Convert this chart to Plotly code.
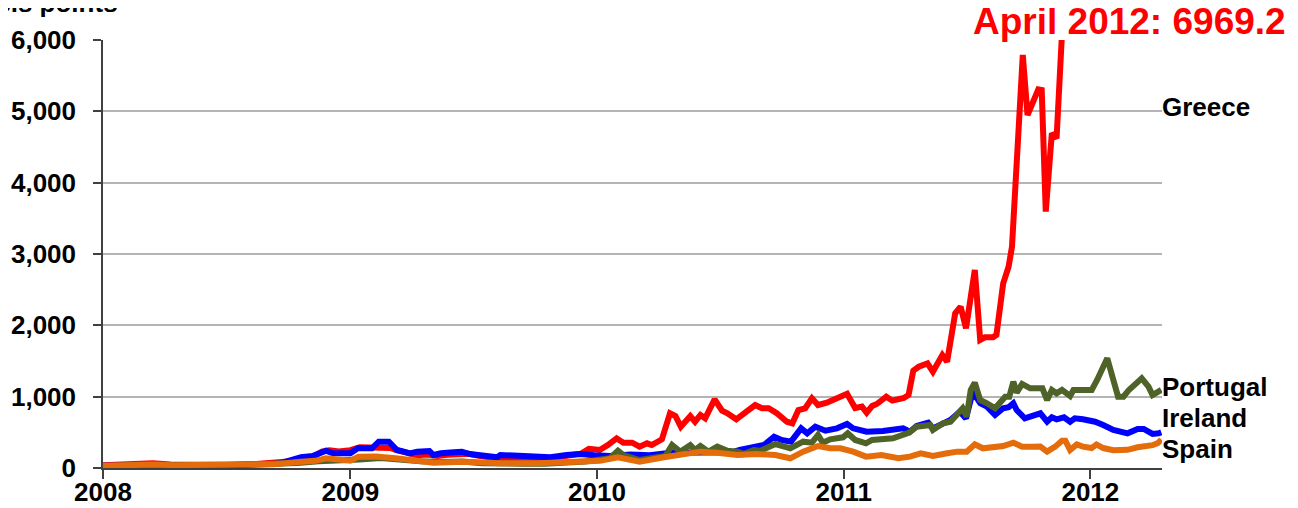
import plotly.graph_objects as go

# ---------------- data (basis points) ----------------
greece_dates = [
    "2008-01-01", "2008-01-20", "2008-02-10", "2008-03-15", "2008-04-10", "2008-05-15", "2008-06-15",
    "2008-07-15", "2008-08-15", "2008-09-15", "2008-10-01", "2008-10-20", "2008-11-05", "2008-11-20",
    "2008-12-01", "2008-12-15", "2009-01-01", "2009-01-15", "2009-02-01", "2009-02-15", "2009-03-01",
    "2009-03-10", "2009-03-25", "2009-04-10", "2009-04-25", "2009-05-10", "2009-05-25", "2009-06-10",
    "2009-06-25", "2009-07-10", "2009-07-25", "2009-08-10", "2009-08-25", "2009-09-10", "2009-09-25",
    "2009-10-10", "2009-10-25", "2009-11-10", "2009-11-25", "2009-12-08", "2009-12-20", "2010-01-05",
    "2010-01-17", "2010-01-30", "2010-02-09", "2010-02-22", "2010-03-05", "2010-03-16", "2010-03-23",
    "2010-04-07", "2010-04-19", "2010-04-27", "2010-05-05", "2010-05-19", "2010-05-26", "2010-06-03",
    "2010-06-10", "2010-06-24", "2010-07-05", "2010-07-13", "2010-07-26", "2010-08-06", "2010-08-23",
    "2010-09-02", "2010-09-12", "2010-09-24", "2010-10-09", "2010-10-17", "2010-10-26", "2010-11-05",
    "2010-11-15", "2010-11-24", "2010-12-07", "2010-12-22", "2011-01-06", "2011-01-18", "2011-01-28",
    "2011-02-04", "2011-02-12", "2011-02-19", "2011-03-05", "2011-03-14", "2011-03-31", "2011-04-07",
    "2011-04-14", "2011-04-22", "2011-05-05", "2011-05-13", "2011-05-27", "2011-06-03", "2011-06-15",
    "2011-06-23", "2011-07-01", "2011-07-14", "2011-07-22", "2011-07-29", "2011-08-10", "2011-08-15",
    "2011-08-25", "2011-09-02", "2011-09-07", "2011-09-23", "2011-09-30", "2011-10-16", "2011-10-21",
    "2011-10-27", "2011-11-05", "2011-11-12", "2011-11-25", "2011-12-15", "2012-01-15", "2012-02-15",
    "2012-03-15", "2012-04-13",
]
greece = [
    40, 45, 60, 65, 50, 45, 50,
    45, 55, 65, 90, 140, 150, 230,
    250, 230, 250, 290, 280, 270, 280,
    250, 220, 180, 190, 170, 185, 190,
    200, 170, 150, 130, 140, 140, 130,
    130, 140, 160, 190, 200, 270, 252,
    322, 416, 355, 355, 299, 346, 322,
    402, 767, 729, 579, 729, 649, 743,
    697, 963, 803, 767, 683, 767, 883,
    837, 837, 767, 649, 626, 813, 837,
    977, 883, 916, 977, 1040, 841, 860,
    776, 869, 897, 1000, 944, 981, 1023,
    1365, 1420, 1467, 1351, 1584, 1491, 2169,
    2262, 1958, 2776, 1795, 1832, 1832, 1865,
    2589, 2822, 3100, 5790, 4949, 5309, 5300,
    3594, 4692, 4622, 7000, 8000, 8500, 9000,
    8000, 6969.2,
]

ireland_dates = [
    "2008-01-01", "2008-02-15", "2008-04-01", "2008-06-01", "2008-08-01", "2008-09-15", "2008-10-20",
    "2008-11-06", "2008-11-26", "2008-12-06", "2009-01-01", "2009-01-12", "2009-02-02", "2009-02-12",
    "2009-02-27", "2009-03-11", "2009-03-21", "2009-03-30", "2009-04-10", "2009-04-22", "2009-04-28",
    "2009-05-04", "2009-05-15", "2009-06-03", "2009-06-15", "2009-06-27", "2009-07-22", "2009-08-06",
    "2009-08-11", "2009-09-05", "2009-10-01", "2009-10-24", "2009-11-17", "2009-12-07", "2009-12-28",
    "2010-01-20", "2010-02-20", "2010-03-20", "2010-04-20", "2010-05-20", "2010-06-20", "2010-07-20",
    "2010-07-31", "2010-08-20", "2010-09-05", "2010-09-20", "2010-10-01", "2010-10-15", "2010-10-30",
    "2010-11-08", "2010-11-20", "2010-12-05", "2010-12-22", "2011-01-06", "2011-01-15", "2011-02-04",
    "2011-02-28", "2011-03-30", "2011-04-09", "2011-04-19", "2011-05-06", "2011-05-13", "2011-05-28",
    "2011-06-08", "2011-06-22", "2011-07-01", "2011-07-11", "2011-07-22", "2011-08-01", "2011-08-13",
    "2011-08-25", "2011-09-02", "2011-09-09", "2011-09-14", "2011-09-26", "2011-10-06", "2011-10-19",
    "2011-10-29", "2011-11-05", "2011-11-12", "2011-11-23", "2011-12-02", "2011-12-09", "2011-12-21",
    "2012-01-08", "2012-01-20", "2012-02-04", "2012-02-25", "2012-03-11", "2012-03-20", "2012-04-02",
    "2012-04-11", "2012-04-15",
]
ireland = [
    30, 40, 35, 35, 40, 55, 150,
    168, 243, 206, 206, 276, 276, 369,
    369, 252, 229, 206, 229, 229, 238,
    182, 206, 220, 229, 196, 159, 150,
    182, 168, 150, 150, 182, 196, 180,
    168, 190, 180, 215, 220, 230, 220,
    252, 299, 322, 439, 393, 369, 556,
    486, 579, 523, 556, 617, 556, 509,
    519, 556, 509, 589, 635, 556, 635,
    673, 789, 696, 1070, 907, 860, 743,
    837, 851, 907, 813, 696, 719, 767,
    649, 711, 683, 711, 649, 696, 683,
    649, 603, 533, 486, 547, 547, 477,
    486, 500,
]

portugal_dates = [
    "2008-01-01", "2008-03-01", "2008-06-01", "2008-09-01", "2008-10-15", "2008-11-15", "2008-12-15",
    "2009-01-15", "2009-02-15", "2009-03-10", "2009-04-15", "2009-05-15", "2009-06-15", "2009-07-15",
    "2009-08-15", "2009-09-15", "2009-10-15", "2009-11-15", "2009-12-15", "2010-01-01", "2010-01-20",
    "2010-02-01", "2010-02-09", "2010-03-05", "2010-03-31", "2010-04-12", "2010-04-22", "2010-05-04",
    "2010-05-19", "2010-05-26", "2010-06-03", "2010-06-15", "2010-06-28", "2010-07-13", "2010-07-28",
    "2010-08-06", "2010-08-21", "2010-08-31", "2010-09-22", "2010-10-14", "2010-11-02", "2010-11-15",
    "2010-11-24", "2010-12-01", "2010-12-12", "2010-12-31", "2011-01-07", "2011-01-18", "2011-02-03",
    "2011-02-12", "2011-03-15", "2011-03-29", "2011-04-08", "2011-04-19", "2011-05-09", "2011-05-13",
    "2011-05-28", "2011-06-08", "2011-06-18", "2011-06-26", "2011-07-02", "2011-07-08", "2011-07-14",
    "2011-07-22", "2011-08-01", "2011-08-13", "2011-08-28", "2011-09-03", "2011-09-09", "2011-09-14",
    "2011-09-22", "2011-10-04", "2011-10-22", "2011-10-29", "2011-11-05", "2011-11-12", "2011-11-20",
    "2011-12-02", "2011-12-07", "2012-01-03", "2012-01-11", "2012-01-26", "2012-02-04", "2012-02-11",
    "2012-02-19", "2012-02-27", "2012-03-17", "2012-03-27", "2012-04-02", "2012-04-10", "2012-04-15",
]
portugal = [
    25, 40, 35, 45, 70, 95, 100,
    120, 140, 115, 95, 85, 90, 65,
    55, 60, 60, 70, 90, 112, 136,
    243, 182, 112, 150, 168, 322, 229,
    322, 252, 308, 229, 299, 243, 229,
    196, 252, 243, 336, 276, 369, 355,
    463, 355, 402, 430, 486, 393, 346,
    393, 416, 463, 495, 579, 603, 533,
    626, 649, 743, 837, 719, 1094, 1196,
    953, 907, 837, 1000, 1000, 1210, 1056,
    1178, 1117, 1117, 953, 1094, 1047, 1094,
    1009, 1094, 1094, 1234, 1538, 1234, 1000,
    1000, 1094, 1257, 1140, 1023, 1070, 1094,
]

spain_dates = [
    "2008-01-01", "2008-02-15", "2008-03-15", "2008-04-15", "2008-06-01", "2008-08-01", "2008-09-15",
    "2008-10-20", "2008-11-10", "2008-11-26", "2009-01-01", "2009-01-13", "2009-02-08", "2009-03-09",
    "2009-05-04", "2009-06-18", "2009-08-11", "2009-10-05", "2009-11-29", "2010-01-05", "2010-02-01",
    "2010-03-05", "2010-04-10", "2010-06-03", "2010-06-28", "2010-07-28", "2010-08-25", "2010-09-22",
    "2010-10-14", "2010-11-02", "2010-11-24", "2010-12-12", "2010-12-27", "2011-01-15", "2011-02-03",
    "2011-02-26", "2011-03-23", "2011-04-09", "2011-04-25", "2011-05-13", "2011-06-03", "2011-06-18",
    "2011-07-02", "2011-07-14", "2011-07-26", "2011-08-10", "2011-08-25", "2011-09-09", "2011-09-22",
    "2011-10-06", "2011-10-19", "2011-10-29", "2011-11-10", "2011-11-20", "2011-11-25", "2011-12-02",
    "2011-12-12", "2011-12-21", "2012-01-03", "2012-01-10", "2012-01-20", "2012-02-04", "2012-02-25",
    "2012-03-11", "2012-03-20", "2012-04-02", "2012-04-10", "2012-04-15",
]
spain = [
    30, 45, 50, 40, 40, 45, 55,
    89, 100, 136, 103, 159, 160, 136,
    75, 89, 65, 65, 89, 100, 150,
    89, 150, 229, 215, 182, 196, 182,
    136, 229, 308, 276, 276, 229, 159,
    182, 136, 159, 206, 168, 206, 229,
    229, 332, 276, 299, 308, 355, 299,
    299, 300, 229, 299, 383, 383, 252,
    330, 300, 280, 330, 280, 250, 255,
    290, 300, 320, 350, 400,
]

year_ticks = ["2008-01-01", "2009-01-01", "2010-01-01", "2011-01-01", "2012-01-01"]
year_labels = ["2008", "2009", "2010", "2011", "2012"]
y_ticks = [0, 1000, 2000, 3000, 4000, 5000, 6000]

# ---------------- figure ----------------
FONT = "Liberation Sans, Arial, sans-serif"
series = [
    ("Greece", greece_dates, greece, "#FF0000"),
    ("Ireland", ireland_dates, ireland, "#0000FF"),
    ("Portugal", portugal_dates, portugal, "#4F6228"),
    ("Spain", spain_dates, spain, "#E46C0A"),
]

fig = go.Figure()
for name, xs, ys, col in series:
    fig.add_trace(go.Scatter(x=xs, y=ys, mode="lines", name=name,
                             line=dict(color=col, width=6), hoverinfo="x+y+name"))

# the page body adds an 8px margin, so the figure is 8px smaller and coords shift by 8
OFF = 8
W, H = 1298 - OFF, 508 - OFF
ML, MR, MT, MB = 103 - OFF, 1298 - 1162, 40 - OFF, 40
pw, ph = W - ML - MR, H - MT - MB


def py2paper(py):  # py given in page pixels
    return (H - MB - (py - OFF)) / ph


def px2paper(px):  # px given in page pixels
    return ((px - OFF) - ML) / pw


label_font = dict(family=FONT, size=26, color="black", weight="bold")
for text, py in [("Greece", 107), ("Portugal", 387), ("Ireland", 418), ("Spain", 449)]:
    fig.add_annotation(text=text, xref="paper", yref="paper", x=px2paper(1160), y=py2paper(py),
                       xanchor="left", yanchor="middle", showarrow=False, font=label_font)

fig.add_annotation(text="April 2012: 6969.2", xref="paper", yref="paper",
                   x=px2paper(1129), y=py2paper(21), xanchor="center", yanchor="middle",
                   showarrow=False, font=dict(family=FONT, size=37, color="#FF0000", weight="bold"))

fig.add_annotation(text="Basis points", xref="paper", yref="paper",
                   x=px2paper(120), y=py2paper(20), xanchor="right", yanchor="bottom",
                   showarrow=False, font=dict(family=FONT, size=26, color="black", weight="bold"))

fig.update_layout(
    width=W, height=H,
    margin=dict(l=ML, r=MR, t=MT, b=MB, autoexpand=False),
    paper_bgcolor="white", plot_bgcolor="white",
    showlegend=False,
    xaxis=dict(
        type="date", range=["2008-01-01", "2012-04-16"],
        tickmode="array", tickvals=year_ticks, ticktext=year_labels,
        ticks="outside", ticklen=9, tickwidth=1.5, tickcolor="#404040",
        showline=True, linecolor="#404040", linewidth=1.5,
        showgrid=False, zeroline=False,
        ticklabelstandoff=-9,
        tickfont=dict(family=FONT, size=26, color="black", weight="bold"),
    ),
    yaxis=dict(
        range=[0, 6000], tickmode="array", tickvals=y_ticks, tickformat=",",
        ticks="outside", ticklen=8, tickwidth=1.5, tickcolor="#404040",
        showline=True, linecolor="#404040", linewidth=1.5,
        showgrid=True, gridcolor="#B4B4B4", gridwidth=2, zeroline=False,
        ticklabelstandoff=12,
        tickfont=dict(family=FONT, size=26, color="black", weight="bold"),
    ),
)

fig.write_html("out.html")
